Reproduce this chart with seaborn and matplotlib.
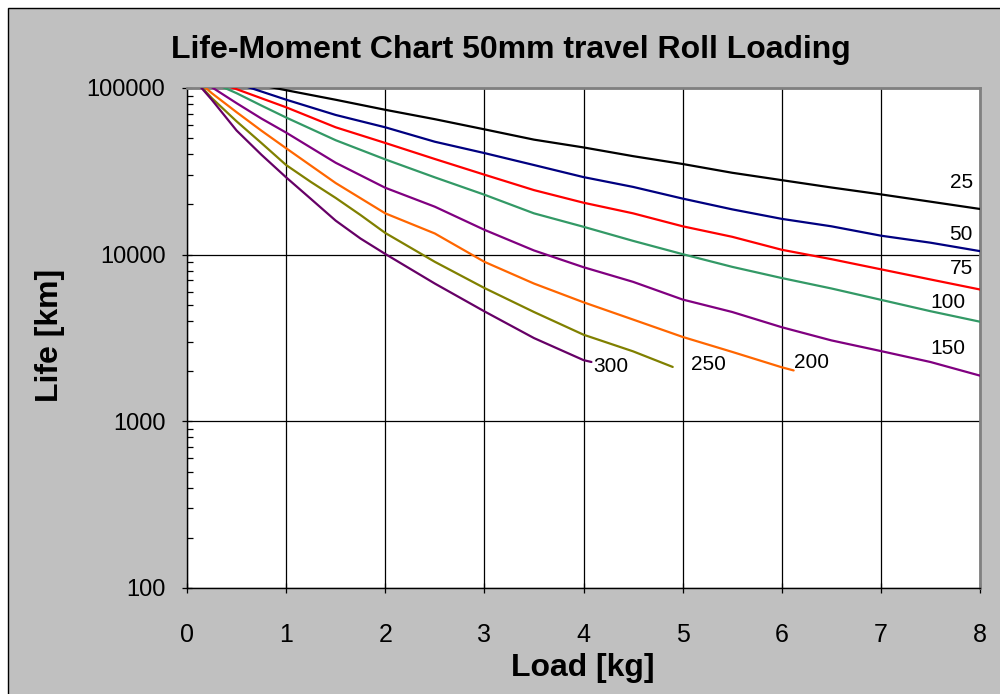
import numpy as np
import pandas as pd
import matplotlib
matplotlib.use("Agg")
import matplotlib.pyplot as plt
import seaborn as sns
from matplotlib.patches import Rectangle
from matplotlib.ticker import FixedLocator, FixedFormatter, LogLocator, NullFormatter

# ---------------- data ----------------
load_25 = [0, 0.5, 1, 1.5, 2, 2.5, 3, 3.5, 4, 4.5, 5, 5.5, 6, 6.5, 7, 7.5, 8]
life_25 = [126000, 111000, 97000, 85000, 74000, 65000, 56500, 49000, 44000,
           39000, 35000, 31000, 28000, 25300, 23000, 20800, 18800]

load_50 = [0, 0.5, 1, 1.5, 2, 2.5, 3, 3.5, 4, 4.5, 5, 5.5, 6, 6.5, 7, 7.5, 8]
life_50 = [126000, 106700, 85100, 68900, 58100, 47600, 40700, 34500, 29200,
           25500, 21700, 18700, 16400, 14800, 13000, 11800, 10500]

load_75 = [0, 0.5, 1, 1.5, 2, 2.5, 3, 3.5, 4, 4.5, 5, 5.5, 6, 6.5, 7, 7.5, 8]
life_75 = [126000, 98400, 76600, 58100, 46800, 37500, 30200, 24400, 20500,
           17700, 14800, 12800, 10700, 9400, 8170, 7100, 6180]

load_100 = [0, 0.5, 0.75, 1, 1.5, 2, 2.5, 3, 3.5, 4, 4.5, 5, 5.5, 6, 6.5, 7, 7.5, 8]
life_100 = [126000, 93100, 78500, 66500, 48600, 37300, 29100, 22900, 17700, 14700,
            12100, 10070, 8450, 7240, 6270, 5360, 4580, 3960]

load_150 = [0, 0.5, 0.75, 1, 1.5, 2, 2.5, 3, 3.5, 4, 4.5, 5, 5.5, 6, 6.5, 7, 7.5, 8]
life_150 = [126000, 81100, 65600, 54000, 35600, 25200, 19400, 14100, 10600, 8410,
            6870, 5380, 4530, 3670, 3060, 2640, 2270, 1880]

load_200 = [0, 0.25, 0.5, 0.75, 1, 1.5, 2, 2.5, 3, 3.5, 4, 4.5, 5, 5.5, 6, 6.12]
life_200 = [126000, 93100, 71600, 55500, 43500, 26900, 17700, 13400, 9060, 6710, 5180,
            4080, 3210, 2610, 2110, 2020]

load_250 = [0, 0.25, 0.5, 0.75, 1, 1.25, 1.5, 1.75, 2, 2.5, 3, 3.5, 4, 4.5, 4.9]
life_250 = [126000, 87000, 63100, 46800, 34500, 27300, 21900, 17300, 13500, 9060,
            6310, 4530, 3310, 2630, 2120]

load_300 = [0, 0.25, 0.5, 0.75, 1, 1.25, 1.5, 1.75, 2, 2.5, 3, 3.5, 4, 4.08]
life_300 = [126000, 85000, 55600, 39800, 29100, 21600, 16000, 12500, 10100, 6710,
            4570, 3160, 2330, 2270]

series_names = ["25", "50", "75", "100", "150", "200", "250", "300"]
series_loads = [load_25, load_50, load_75, load_100, load_150, load_200, load_250, load_300]
series_lifes = [life_25, life_50, life_75, life_100, life_150, life_200, life_250, life_300]
series_colors = ["#000000", "#000080", "#FF0000", "#339966",
                 "#800080", "#FF6600", "#808000", "#660066"]

x_ticks = [0, 1, 2, 3, 4, 5, 6, 7, 8]
y_ticks = [100, 1000, 10000, 100000]
y_tick_labels = ["100", "1000", "10000", "100000"]

df = pd.concat([pd.DataFrame({"Load": l, "Life": v, "Series": n})
                for n, l, v in zip(series_names, series_loads, series_lifes)],
               ignore_index=True)

# ---------------- style ----------------
sns.set_style("white")
plt.rcParams['font.family'] = ['Liberation Sans', 'DejaVu Sans']
plt.rcParams['text.color'] = 'black'
plt.rcParams['axes.labelcolor'] = 'black'
plt.rcParams['xtick.color'] = 'black'
plt.rcParams['ytick.color'] = 'black'

fig = plt.figure(figsize=(10, 6.94), dpi=100, facecolor="white")
bg = Rectangle((8 / 1000, -0.05), 1.2, 1 - 8 / 694 + 0.05, transform=fig.transFigure,
               facecolor="#C0C0C0", edgecolor="black", linewidth=1.0, zorder=-5)
fig.add_artist(bg)

ax = fig.add_axes([0.187, 1 - 588 / 694, 0.793, 500 / 694])
ax.set_facecolor("white")

sns.lineplot(data=df, x="Load", y="Life", hue="Series", hue_order=series_names,
             palette=series_colors, linewidth=1.6, legend=False, sort=False,
             estimator=None, ax=ax, zorder=3)

ax.set_yscale("log")
ax.set_xlim(0, 8)
ax.set_ylim(100, 100000)
ax.xaxis.set_major_locator(FixedLocator(x_ticks))
ax.xaxis.set_major_formatter(FixedFormatter([str(t) for t in x_ticks]))
ax.yaxis.set_major_locator(FixedLocator(y_ticks))
ax.yaxis.set_major_formatter(FixedFormatter(y_tick_labels))
ax.yaxis.set_minor_locator(LogLocator(base=10, subs=np.arange(2, 10)))
ax.yaxis.set_minor_formatter(NullFormatter())

ax.grid(True, which="major", axis="both", color="black", linewidth=0.9, zorder=1)
ax.set_axisbelow(True)

ax.tick_params(axis="y", which="major", direction="inout", length=7, width=0.9,
               color="black", labelcolor="black", labelsize=17, pad=12, left=True)
ax.tick_params(axis="y", which="minor", direction="in", length=4, width=0.9,
               color="black", left=True)
ax.tick_params(axis="x", which="major", direction="inout", length=7, width=0.9,
               color="black", labelcolor="black", labelsize=18, pad=22, bottom=True)

for side in ["left", "bottom"]:
    ax.spines[side].set_color("black")
    ax.spines[side].set_linewidth(1.0)
for side in ["top", "right"]:
    ax.spines[side].set_color("#808080")
    ax.spines[side].set_linewidth(2.0)

ax.set_xlabel("")
ax.set_ylabel("")

fig.text(0.511, 1 - 50 / 694, "Life-Moment Chart 50mm travel Roll Loading",
         ha="center", va="center", fontsize=23, fontweight="bold", color="black")
fig.text(0.583, 1 - 668 / 694, "Load [kg]", ha="center", va="center",
         fontsize=23, fontweight="bold", color="black")
fig.text(0.050, 1 - 335 / 694, "Life [km]", ha="center", va="center",
         rotation=90, fontsize=23, fontweight="bold", color="black")

# curve labels
lab = dict(fontsize=15, color="black", va="center")
ax.text(7.93, 27000, "25", ha="right", **lab)
ax.text(7.92, 13200, "50", ha="right", **lab)
ax.text(7.93, 8300, "75", ha="right", **lab)
ax.text(7.85, 5190, "100", ha="right", **lab)
ax.text(7.85, 2740, "150", ha="right", **lab)
ax.text(6.12, 2244, "200", ha="left", **lab)
ax.text(5.08, 2183, "250", ha="left", **lab)
ax.text(4.10, 2140, "300", ha="left", **lab)

fig.savefig("out.png", dpi=100, facecolor=fig.get_facecolor())
